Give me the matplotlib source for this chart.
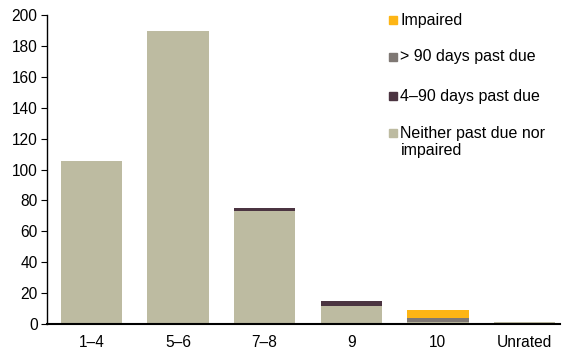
import matplotlib.pyplot as plt
from matplotlib.patches import Rectangle

plt.rcParams['font.family'] = ['Liberation Sans', 'DejaVu Sans']

categories = ['1–4', '5–6', '7–8', '9', '10', 'Unrated']
neither = [105.5, 189.6, 73.1, 11.7, 1.5, 1.0]
days_4_90 = [0, 0, 1.8, 3.4, 0, 0]
days_90 = [0, 0, 0, 0, 2.4, 0]
impaired = [0, 0, 0, 0, 5.2, 0]

series = [
    ('Neither past due nor\nimpaired', neither, '#BDBBA1'),
    ('4–90 days past due', days_4_90, '#4B3441'),
    ('> 90 days past due', days_90, '#7F7874'),
    ('Impaired', impaired, '#FDB515'),
]

fig = plt.figure(figsize=(5.62, 3.54), dpi=100)
ax = fig.add_axes([47.3 / 562, 30 / 354, (560 - 47.3) / 562, 309 / 354])

x = list(range(len(categories)))
bottom = [0.0] * len(categories)
for label, vals, color in series:
    ax.bar(x, vals, width=0.71, bottom=bottom, color=color, edgecolor='none')
    bottom = [b + v for b, v in zip(bottom, vals)]

ax.set_xlim(-0.51, 5.41)
ax.set_ylim(0, 200)
ax.set_yticks(range(0, 201, 20))
ax.set_xticks(x)
ax.set_xticklabels(categories)
ax.spines['top'].set_visible(False)
ax.spines['right'].set_visible(False)
ax.spines['left'].set_linewidth(1.0)
ax.spines['bottom'].set_linewidth(1.5)
ax.tick_params(axis='y', length=4, width=0.8, pad=3, labelsize=11.2)
ax.tick_params(axis='x', length=0, pad=8, labelsize=11.2)

# legend drawn by hand, top to bottom (y centres in pixels)
legend_rows = [('Impaired', '#FDB515', 20, 20), ('> 90 days past due', '#7F7874', 57, 57),
               ('4–90 days past due', '#4B3441', 96, 96),
               ('Neither past due nor\nimpaired', '#BDBBA1', 133, 142)]
for text, color, ypx, ytxt in legend_rows:
    fig.patches.append(Rectangle((389 / 562, 1 - (ypx + 3.8) / 354), 7.7 / 562, 7.7 / 354,
                                 transform=fig.transFigure, color=color))
    fig.text(400.5 / 562, 1 - ytxt / 354, text, fontsize=11.5, va='center', ha='left',
             linespacing=1.1)

fig.savefig('out.png', dpi=100)
